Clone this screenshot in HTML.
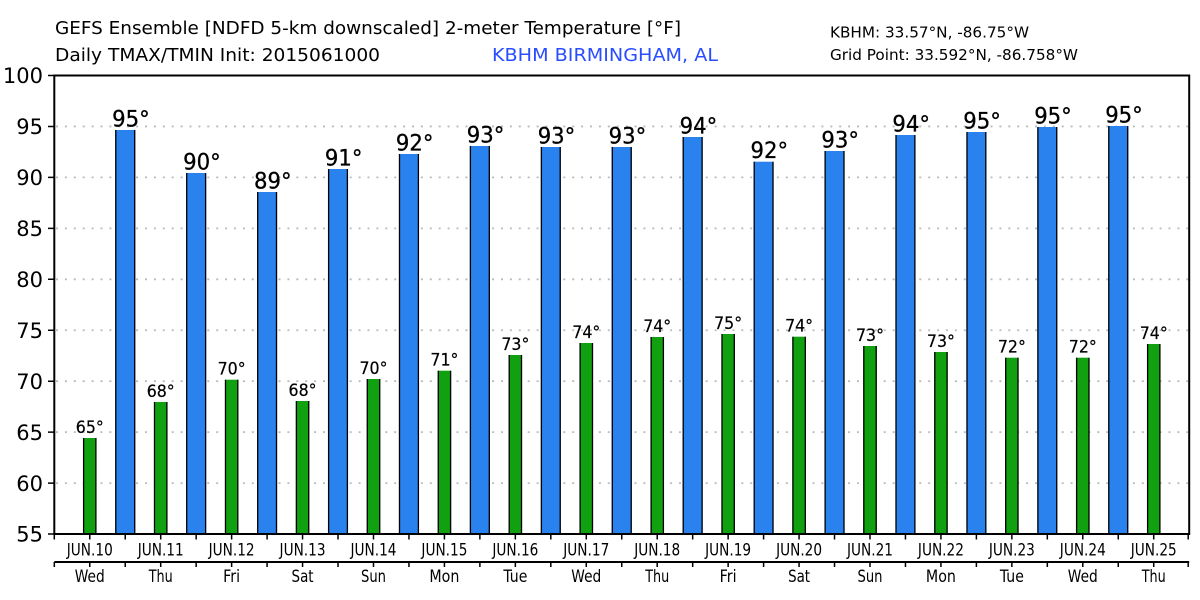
<!DOCTYPE html>
<html><head><meta charset="utf-8"><style>
html,body{margin:0;padding:0;background:#fff;}
svg{display:block;}
text{font-family:"DejaVu Sans","Liberation Sans",sans-serif;fill:#000;}
</style></head><body>
<svg width="1200" height="600" viewBox="0 0 1200 600" xmlns="http://www.w3.org/2000/svg">
<rect width="1200" height="600" fill="#fff"/>
<!-- titles -->
<text x="55" y="34" font-size="18" textLength="626" lengthAdjust="spacingAndGlyphs">GEFS Ensemble [NDFD 5-km downscaled] 2-meter Temperature [°F]</text>
<text x="55" y="61" font-size="18" textLength="325" lengthAdjust="spacingAndGlyphs">Daily TMAX/TMIN Init: 2015061000</text>
<text x="492" y="61" font-size="18" fill="#2a4dff" style="fill:#2a4dff" textLength="226" lengthAdjust="spacingAndGlyphs">KBHM BIRMINGHAM, AL</text>
<text x="830" y="37.5" font-size="15" textLength="199" lengthAdjust="spacingAndGlyphs">KBHM: 33.57°N, -86.75°W</text>
<text x="830" y="60" font-size="15" textLength="248" lengthAdjust="spacingAndGlyphs">Grid Point: 33.592°N, -86.758°W</text>

<!-- grid -->
<g stroke="#bbbbbb" stroke-width="1.8" stroke-dasharray="2 6.9">
<line x1="56" x2="1188" y1="126.45" y2="126.45"/>
<line x1="56" x2="1188" y1="177.4" y2="177.4"/>
<line x1="56" x2="1188" y1="228.35" y2="228.35"/>
<line x1="56" x2="1188" y1="279.3" y2="279.3"/>
<line x1="56" x2="1188" y1="330.25" y2="330.25"/>
<line x1="56" x2="1188" y1="381.2" y2="381.2"/>
<line x1="56" x2="1188" y1="432.15" y2="432.15"/>
<line x1="56" x2="1188" y1="483.1" y2="483.1"/>
</g>

<!-- blue bars -->
<g fill="#2a82ee">
<rect x="115.23" y="130" width="20" height="404"/>
<rect x="186.16" y="173" width="20" height="361"/>
<rect x="257.09" y="192" width="20" height="342"/>
<rect x="328.02" y="169" width="20" height="365"/>
<rect x="398.95" y="154" width="20" height="380"/>
<rect x="469.88" y="146" width="20" height="388"/>
<rect x="540.81" y="147" width="20" height="387"/>
<rect x="611.74" y="147" width="20" height="387"/>
<rect x="682.67" y="137" width="20" height="397"/>
<rect x="753.6" y="161.7" width="20" height="372.3"/>
<rect x="824.53" y="151" width="20" height="383"/>
<rect x="895.46" y="135" width="20" height="399"/>
<rect x="966.39" y="132" width="20" height="402"/>
<rect x="1037.32" y="127" width="20" height="407"/>
<rect x="1108.25" y="126" width="20" height="408"/>
</g>
<g stroke="#000" stroke-width="1.3" fill="none">
<path d="M115.8 130V534M134.7 130V534"/>
<path d="M186.7 173V534M205.6 173V534"/>
<path d="M257.7 192V534M276.5 192V534"/>
<path d="M328.6 169V534M347.4 169V534"/>
<path d="M399.5 154V534M418.4 154V534"/>
<path d="M470.4 146V534M489.3 146V534"/>
<path d="M541.4 147V534M560.2 147V534"/>
<path d="M612.3 147V534M631.2 147V534"/>
<path d="M683.2 137V534M702.1 137V534"/>
<path d="M754.2 161.7V534M773.0 161.7V534"/>
<path d="M825.1 151V534M844.0 151V534"/>
<path d="M896.0 135V534M914.9 135V534"/>
<path d="M967.0 132V534M985.8 132V534"/>
<path d="M1037.9 127V534M1056.7 127V534"/>
<path d="M1108.8 126V534M1127.7 126V534"/>
</g>

<!-- green bars -->
<g fill="#10a010">
<rect x="83.07" y="438" width="13.4" height="96"/>
<rect x="154.0" y="402" width="13.4" height="132"/>
<rect x="224.93" y="379.7" width="13.4" height="154.3"/>
<rect x="295.86" y="401" width="13.4" height="133"/>
<rect x="366.79" y="379" width="13.4" height="155"/>
<rect x="437.72" y="370.7" width="13.4" height="163.3"/>
<rect x="508.65" y="355" width="13.4" height="179"/>
<rect x="579.58" y="343" width="13.4" height="191"/>
<rect x="650.51" y="337" width="13.4" height="197"/>
<rect x="721.44" y="334" width="13.4" height="200"/>
<rect x="792.37" y="336.7" width="13.4" height="197.3"/>
<rect x="863.3" y="346" width="13.4" height="188"/>
<rect x="934.23" y="352" width="13.4" height="182"/>
<rect x="1005.16" y="357.7" width="13.4" height="176.3"/>
<rect x="1076.09" y="357.7" width="13.4" height="176.3"/>
<rect x="1147.02" y="344" width="13.4" height="190"/>
</g>
<g stroke="#000" stroke-width="1.3" fill="none">
<path d="M83.6 438V534M95.9 438V534"/>
<path d="M154.5 402V534M166.9 402V534"/>
<path d="M225.5 379.7V534M237.8 379.7V534"/>
<path d="M296.4 401V534M308.7 401V534"/>
<path d="M367.3 379V534M379.7 379V534"/>
<path d="M438.3 370.7V534M450.6 370.7V534"/>
<path d="M509.2 355V534M521.5 355V534"/>
<path d="M580.1 343V534M592.5 343V534"/>
<path d="M651.1 337V534M663.4 337V534"/>
<path d="M722.0 334V534M734.3 334V534"/>
<path d="M792.9 336.7V534M805.3 336.7V534"/>
<path d="M863.8 346V534M876.2 346V534"/>
<path d="M934.8 352V534M947.1 352V534"/>
<path d="M1005.7 357.7V534M1018.0 357.7V534"/>
<path d="M1076.6 357.7V534M1089.0 357.7V534"/>
<path d="M1147.6 344V534M1159.9 344V534"/>
</g>

<!-- blue labels -->
<g font-size="22" text-anchor="middle" stroke="#000" stroke-width="0.3">
<text x="130.9" y="126.5" textLength="37.6" lengthAdjust="spacingAndGlyphs">95°</text>
<text x="201.9" y="169.5" textLength="37.6" lengthAdjust="spacingAndGlyphs">90°</text>
<text x="272.8" y="188.5" textLength="37.6" lengthAdjust="spacingAndGlyphs">89°</text>
<text x="343.7" y="165.5" textLength="37.6" lengthAdjust="spacingAndGlyphs">91°</text>
<text x="414.7" y="150.5" textLength="37.6" lengthAdjust="spacingAndGlyphs">92°</text>
<text x="485.6" y="142.5" textLength="37.6" lengthAdjust="spacingAndGlyphs">93°</text>
<text x="556.5" y="143.5" textLength="37.6" lengthAdjust="spacingAndGlyphs">93°</text>
<text x="627.4" y="143.5" textLength="37.6" lengthAdjust="spacingAndGlyphs">93°</text>
<text x="698.4" y="133.5" textLength="37.6" lengthAdjust="spacingAndGlyphs">94°</text>
<text x="769.3" y="158.2" textLength="37.6" lengthAdjust="spacingAndGlyphs">92°</text>
<text x="840.2" y="147.5" textLength="37.6" lengthAdjust="spacingAndGlyphs">93°</text>
<text x="911.2" y="131.5" textLength="37.6" lengthAdjust="spacingAndGlyphs">94°</text>
<text x="982.1" y="128.5" textLength="37.6" lengthAdjust="spacingAndGlyphs">95°</text>
<text x="1053.0" y="123.5" textLength="37.6" lengthAdjust="spacingAndGlyphs">95°</text>
<text x="1124.0" y="122.5" textLength="37.6" lengthAdjust="spacingAndGlyphs">95°</text>
</g>

<!-- green labels -->
<g font-size="16.5" text-anchor="middle" stroke="#000" stroke-width="0.2">
<text x="89.77" y="433" textLength="28" lengthAdjust="spacingAndGlyphs">65°</text>
<text x="160.7" y="397" textLength="28" lengthAdjust="spacingAndGlyphs">68°</text>
<text x="231.63" y="374.7" textLength="28" lengthAdjust="spacingAndGlyphs">70°</text>
<text x="302.56" y="396" textLength="28" lengthAdjust="spacingAndGlyphs">68°</text>
<text x="373.49" y="374" textLength="28" lengthAdjust="spacingAndGlyphs">70°</text>
<text x="444.42" y="365.7" textLength="28" lengthAdjust="spacingAndGlyphs">71°</text>
<text x="515.35" y="350" textLength="28" lengthAdjust="spacingAndGlyphs">73°</text>
<text x="586.28" y="338" textLength="28" lengthAdjust="spacingAndGlyphs">74°</text>
<text x="657.21" y="332" textLength="28" lengthAdjust="spacingAndGlyphs">74°</text>
<text x="728.14" y="329" textLength="28" lengthAdjust="spacingAndGlyphs">75°</text>
<text x="799.07" y="331.7" textLength="28" lengthAdjust="spacingAndGlyphs">74°</text>
<text x="870.0" y="341" textLength="28" lengthAdjust="spacingAndGlyphs">73°</text>
<text x="940.93" y="347" textLength="28" lengthAdjust="spacingAndGlyphs">73°</text>
<text x="1011.86" y="352.7" textLength="28" lengthAdjust="spacingAndGlyphs">72°</text>
<text x="1082.79" y="352.7" textLength="28" lengthAdjust="spacingAndGlyphs">72°</text>
<text x="1153.72" y="339" textLength="28" lengthAdjust="spacingAndGlyphs">74°</text>
</g>

<!-- frame -->
<rect x="54.3" y="75.5" width="1134.9" height="458.5" fill="none" stroke="#000" stroke-width="2"/>

<!-- y ticks & labels -->
<g stroke="#000" stroke-width="1.5">
<path d="M48 75.5H54M48 126.45H54M48 177.4H54M48 228.35H54M48 279.3H54M48 330.25H54M48 381.2H54M48 432.15H54M48 483.1H54M48 534H54"/>
</g>
<g font-size="21" text-anchor="end">
<text x="43" y="83">100</text>
<text x="43" y="134">95</text>
<text x="43" y="185">90</text>
<text x="43" y="236">85</text>
<text x="43" y="287">80</text>
<text x="43" y="338">75</text>
<text x="43" y="389">70</text>
<text x="43" y="440">65</text>
<text x="43" y="491">60</text>
<text x="43" y="541.5">55</text>
</g>

<!-- x axis ticks -->
<line x1="54.3" x2="1189.2" y1="562" y2="562" stroke="#000" stroke-width="2"/>
<g stroke="#000" stroke-width="1.5">
<path d="M54.3 535V539.5M89.77 535V539.5M125.23 535V539.5M160.7 535V539.5M196.16 535V539.5M231.63 535V539.5M267.09 535V539.5M302.56 535V539.5M338.02 535V539.5M373.49 535V539.5M408.95 535V539.5M444.42 535V539.5M479.88 535V539.5M515.35 535V539.5M550.81 535V539.5M586.28 535V539.5M621.74 535V539.5M657.21 535V539.5M692.67 535V539.5M728.14 535V539.5M763.6 535V539.5M799.07 535V539.5M834.53 535V539.5M870.0 535V539.5M905.46 535V539.5M940.93 535V539.5M976.39 535V539.5M1011.86 535V539.5M1047.32 535V539.5M1082.79 535V539.5M1118.25 535V539.5M1153.72 535V539.5M1188.2 535V539.5"/>
<path d="M54.3 562V567M89.77 562V567M125.23 562V567M160.7 562V567M196.16 562V567M231.63 562V567M267.09 562V567M302.56 562V567M338.02 562V567M373.49 562V567M408.95 562V567M444.42 562V567M479.88 562V567M515.35 562V567M550.81 562V567M586.28 562V567M621.74 562V567M657.21 562V567M692.67 562V567M728.14 562V567M763.6 562V567M799.07 562V567M834.53 562V567M870.0 562V567M905.46 562V567M940.93 562V567M976.39 562V567M1011.86 562V567M1047.32 562V567M1082.79 562V567M1118.25 562V567M1153.72 562V567M1188.2 562V567"/>
</g>

<!-- date labels -->
<g font-size="17" text-anchor="middle">
<text x="89.77" y="555.5" textLength="46" lengthAdjust="spacingAndGlyphs">JUN.10</text>
<text x="160.7" y="555.5" textLength="46" lengthAdjust="spacingAndGlyphs">JUN.11</text>
<text x="231.63" y="555.5" textLength="46" lengthAdjust="spacingAndGlyphs">JUN.12</text>
<text x="302.56" y="555.5" textLength="46" lengthAdjust="spacingAndGlyphs">JUN.13</text>
<text x="373.49" y="555.5" textLength="46" lengthAdjust="spacingAndGlyphs">JUN.14</text>
<text x="444.42" y="555.5" textLength="46" lengthAdjust="spacingAndGlyphs">JUN.15</text>
<text x="515.35" y="555.5" textLength="46" lengthAdjust="spacingAndGlyphs">JUN.16</text>
<text x="586.28" y="555.5" textLength="46" lengthAdjust="spacingAndGlyphs">JUN.17</text>
<text x="657.21" y="555.5" textLength="46" lengthAdjust="spacingAndGlyphs">JUN.18</text>
<text x="728.14" y="555.5" textLength="46" lengthAdjust="spacingAndGlyphs">JUN.19</text>
<text x="799.07" y="555.5" textLength="46" lengthAdjust="spacingAndGlyphs">JUN.20</text>
<text x="870.0" y="555.5" textLength="46" lengthAdjust="spacingAndGlyphs">JUN.21</text>
<text x="940.93" y="555.5" textLength="46" lengthAdjust="spacingAndGlyphs">JUN.22</text>
<text x="1011.86" y="555.5" textLength="46" lengthAdjust="spacingAndGlyphs">JUN.23</text>
<text x="1082.79" y="555.5" textLength="46" lengthAdjust="spacingAndGlyphs">JUN.24</text>
<text x="1153.72" y="555.5" textLength="46" lengthAdjust="spacingAndGlyphs">JUN.25</text>
</g>
<g font-size="17" text-anchor="middle">
<text x="89.77" y="582" textLength="30" lengthAdjust="spacingAndGlyphs">Wed</text>
<text x="160.7" y="582" textLength="24" lengthAdjust="spacingAndGlyphs">Thu</text>
<text x="231.63" y="582" textLength="17" lengthAdjust="spacingAndGlyphs">Fri</text>
<text x="302.56" y="582" textLength="22" lengthAdjust="spacingAndGlyphs">Sat</text>
<text x="373.49" y="582" textLength="25" lengthAdjust="spacingAndGlyphs">Sun</text>
<text x="444.42" y="582" textLength="30" lengthAdjust="spacingAndGlyphs">Mon</text>
<text x="515.35" y="582" textLength="24" lengthAdjust="spacingAndGlyphs">Tue</text>
<text x="586.28" y="582" textLength="30" lengthAdjust="spacingAndGlyphs">Wed</text>
<text x="657.21" y="582" textLength="24" lengthAdjust="spacingAndGlyphs">Thu</text>
<text x="728.14" y="582" textLength="17" lengthAdjust="spacingAndGlyphs">Fri</text>
<text x="799.07" y="582" textLength="22" lengthAdjust="spacingAndGlyphs">Sat</text>
<text x="870.0" y="582" textLength="25" lengthAdjust="spacingAndGlyphs">Sun</text>
<text x="940.93" y="582" textLength="30" lengthAdjust="spacingAndGlyphs">Mon</text>
<text x="1011.86" y="582" textLength="24" lengthAdjust="spacingAndGlyphs">Tue</text>
<text x="1082.79" y="582" textLength="30" lengthAdjust="spacingAndGlyphs">Wed</text>
<text x="1153.72" y="582" textLength="24" lengthAdjust="spacingAndGlyphs">Thu</text>
</g>
</svg>
</body></html>
